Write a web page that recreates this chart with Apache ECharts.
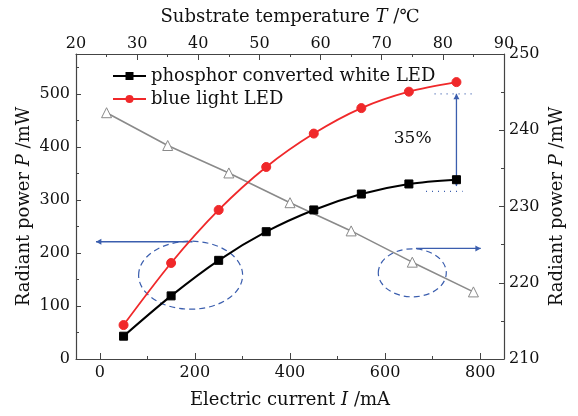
<!DOCTYPE html>
<html>
<head>
<meta charset="utf-8">
<script src="https://cdn.jsdelivr.net/npm/echarts@6/dist/echarts.min.js"></script>
<style>
  html, body { margin: 0; padding: 0; background: #ffffff; }
  #chart { width: 578px; height: 416px; }
</style>
</head>
<body>
<div id="chart"></div>
<script>
// Drive current (mA) and output radiant power (mW) for the two LEDs
const currentMA = [50, 150, 250, 350, 450, 550, 650, 750];
const whiteLED = [43, 119, 186, 240, 281, 311, 330, 338];
const blueLED = [64, 181, 281, 362, 425, 473, 504, 522];

// Radiant power against substrate temperature (top / right axes)
const substrateT = [25, 35, 45, 55, 65, 75, 85];
const radiantVsT = [242.3, 238.0, 234.4, 230.5, 226.8, 222.7, 218.8];

// Tick values
const currentLabels = [0, 200, 400, 600, 800];
const currentMinor = [100, 300, 500, 700];
const powerLabels = [0, 100, 200, 300, 400, 500];
const powerMinor = [50, 150, 250, 350, 450, 550];

const seriesNames = ['phosphor converted white LED', 'blue light LED'];

const FONT = 'DejaVu Serif';
const AXIS_COLOR = '#444';
const BLUE = '#3b5eae';

const chart = echarts.init(document.getElementById('chart'), null, { renderer: 'canvas' });

const labelStyle = { color: '#111', fontFamily: FONT, fontSize: 16 };
const nameStyle = {
  color: '#111', fontFamily: FONT, fontSize: 18,
  rich: { i: { fontStyle: 'italic', fontFamily: FONT, fontSize: 18, color: '#111' } }
};
const frameLine = { show: true, onZero: false, lineStyle: { color: AXIS_COLOR, width: 1.2 } };

const option = {
  backgroundColor: '#ffffff',
  animation: false,
  grid: { left: 76, right: 74, top: 54, bottom: 57, containLabel: false },
  legend: {
    data: seriesNames,
    orient: 'vertical',
    left: 112,
    top: 66,
    padding: 0,
    itemWidth: 33,
    itemHeight: 10,
    itemGap: 3,
    textStyle: { color: '#111', fontFamily: FONT, fontSize: 18, lineHeight: 20 }
  },
  xAxis: [
    {
      type: 'value', position: 'bottom', min: -50, max: 850,
      name: 'Electric current {i|I} /mA', nameLocation: 'middle', nameGap: 32,
      nameMoveOverlap: false,
      nameTextStyle: nameStyle,
      axisLine: frameLine,
      axisTick: { show: true, inside: true, length: 6, customValues: currentLabels, lineStyle: { color: AXIS_COLOR } },
      axisLabel: { show: true, margin: 6, customValues: currentLabels, ...labelStyle },
      splitLine: { show: false }
    },
    {
      type: 'value', position: 'top', min: 20, max: 90, interval: 10,
      name: 'Substrate temperature {i|T} /℃', nameLocation: 'middle', nameGap: 28,
      nameMoveOverlap: false,
      nameTextStyle: nameStyle,
      axisLine: frameLine,
      axisTick: { show: true, inside: true, length: 6, lineStyle: { color: AXIS_COLOR } },
      minorTick: { show: true, splitNumber: 2, length: 3, lineStyle: { color: AXIS_COLOR } },
      axisLabel: { show: true, margin: 2, ...labelStyle },
      splitLine: { show: false }
    },
    {
      // minor ticks of the current axis
      type: 'value', position: 'bottom', min: -50, max: 850,
      axisLine: { show: false, onZero: false },
      axisTick: { show: true, inside: true, length: 3, customValues: currentMinor, lineStyle: { color: AXIS_COLOR } },
      axisLabel: { show: false },
      splitLine: { show: false }
    }
  ],
  yAxis: [
    {
      type: 'value', position: 'left', min: 0, max: 575,
      name: 'Radiant power {i|P} /mW', nameLocation: 'middle', nameGap: 43,
      nameMoveOverlap: false,
      nameTextStyle: nameStyle,
      axisLine: frameLine,
      axisTick: { show: true, inside: true, length: 5, customValues: powerLabels, lineStyle: { color: AXIS_COLOR } },
      axisLabel: { show: true, margin: 6, customValues: powerLabels, ...labelStyle },
      splitLine: { show: false }
    },
    {
      type: 'value', position: 'right', min: 210, max: 250, interval: 10,
      name: 'Radiant power {i|P} /mW', nameLocation: 'middle', nameGap: 44,
      nameMoveOverlap: false,
      nameTextStyle: nameStyle,
      axisLine: frameLine,
      axisTick: { show: true, inside: true, length: 5, lineStyle: { color: AXIS_COLOR } },
      minorTick: { show: true, splitNumber: 2, length: 3, lineStyle: { color: AXIS_COLOR } },
      axisLabel: { show: true, margin: 5, ...labelStyle },
      splitLine: { show: false }
    },
    {
      // minor ticks of the left power axis
      type: 'value', position: 'left', min: 0, max: 575,
      axisLine: { show: false, onZero: false },
      axisTick: { show: true, inside: true, length: 3, customValues: powerMinor, lineStyle: { color: AXIS_COLOR } },
      axisLabel: { show: false },
      splitLine: { show: false }
    }
  ],
  series: [
    {
      name: seriesNames[0], type: 'line', xAxisIndex: 0, yAxisIndex: 0,
      data: currentMA.map((x, i) => [x, whiteLED[i]]),
      smooth: 0.3, symbol: 'rect', symbolSize: 8,
      lineStyle: { color: '#000', width: 2 },
      itemStyle: { color: '#000', borderColor: '#000' }
    },
    {
      name: seriesNames[1], type: 'line', xAxisIndex: 0, yAxisIndex: 0,
      data: currentMA.map((x, i) => [x, blueLED[i]]),
      smooth: 0.3, symbol: 'circle', symbolSize: 9,
      lineStyle: { color: '#f0282a', width: 1.8 },
      itemStyle: { color: '#f0282a', borderColor: '#f0282a' }
    },
    {
      name: 'temperature', type: 'line', xAxisIndex: 1, yAxisIndex: 1,
      data: substrateT.map((t, i) => [t, radiantVsT[i]]),
      symbol: 'triangle', symbolSize: 10,
      lineStyle: { color: '#8a8a8a', width: 1.6 },
      itemStyle: { color: '#ffffff', borderColor: '#8a8a8a', borderWidth: 1 },
      z: 1
    }
  ]
};

chart.setOption(option);

// Annotations placed in data coordinates
const toPxLeft = (p) => chart.convertToPixel({ xAxisIndex: 0, yAxisIndex: 0 }, p);
const toPxRight = (p) => chart.convertToPixel({ xAxisIndex: 1, yAxisIndex: 1 }, p);

function arrowHead(tip, from, size) {
  const dx = tip[0] - from[0], dy = tip[1] - from[1];
  const len = Math.sqrt(dx * dx + dy * dy);
  const ux = dx / len, uy = dy / len;
  const bx = tip[0] - ux * size * 1.8, by = tip[1] - uy * size * 1.8;
  return {
    type: 'polygon', silent: true,
    shape: { points: [tip, [bx - uy * size, by + ux * size], [bx + uy * size, by - ux * size]] },
    style: { fill: BLUE }
  };
}
function arrowLine(a, b) {
  return {
    type: 'line', silent: true,
    shape: { x1: a[0], y1: a[1], x2: b[0], y2: b[1] },
    style: { stroke: BLUE, lineWidth: 1.3 }
  };
}

const graphics = [];

// left-pointing arrow and ellipse marking the current-axis curves
const la = toPxLeft([195, 221]), lb = toPxLeft([-8, 221]);
graphics.push(arrowLine(la, lb), arrowHead(lb, la, 3));
const lc = toPxLeft([191, 158]);
graphics.push({
  type: 'ellipse', silent: true,
  shape: { cx: lc[0], cy: lc[1], rx: 52, ry: 34 },
  style: { fill: 'none', stroke: BLUE, lineWidth: 1.2, lineDash: [6, 4] }
});

// right-pointing arrow and ellipse marking the temperature curve
const ra = toPxRight([75.6, 224.5]), rb = toPxRight([86.2, 224.5]);
graphics.push(arrowLine(ra, rb), arrowHead(rb, ra, 3));
const rc = toPxRight([75.0, 221.3]);
graphics.push({
  type: 'ellipse', silent: true,
  shape: { cx: rc[0], cy: rc[1], rx: 34, ry: 24 },
  style: { fill: 'none', stroke: BLUE, lineWidth: 1.2, lineDash: [6, 4] }
});

// difference between the two LEDs at 750 mA
const va = toPxLeft([750, 500]), vb = toPxLeft([750, 326]);
graphics.push(arrowLine(va, vb), arrowHead(va, vb, 3), arrowHead(vb, va, 3));
const d1a = toPxLeft([704, 500]), d1b = toPxLeft([784, 500]);
const d2a = toPxLeft([686, 316]), d2b = toPxLeft([763, 316]);
[[d1a, d1b], [d2a, d2b]].forEach(([a, b]) => graphics.push({
  type: 'line', silent: true,
  shape: { x1: a[0], y1: a[1], x2: b[0], y2: b[1] },
  style: { stroke: BLUE, lineWidth: 1.2, lineDash: [1, 5] }
}));
const tp = toPxLeft([658, 415]);
graphics.push({
  type: 'text', silent: true, x: tp[0], y: tp[1],
  style: { text: '35%', fontFamily: FONT, fontSize: 17, fill: '#111', align: 'center', verticalAlign: 'middle' }
});

chart.setOption({ graphic: graphics });
</script>
</body>
</html>
